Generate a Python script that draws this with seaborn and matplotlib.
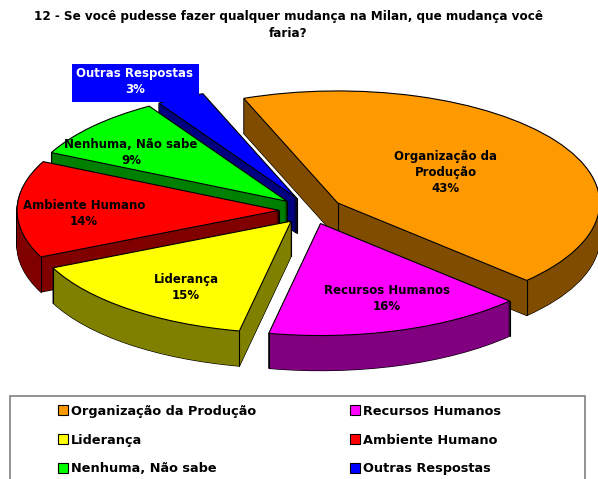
import numpy as np
import matplotlib.pyplot as plt
from matplotlib.patches import Rectangle
from matplotlib.transforms import Affine2D
import seaborn as sns

# Data
categories = ['Organização da Produção', 'Recursos Humanos', 'Liderança',
              'Ambiente Humano', 'Nenhuma, Não sabe', 'Outras Respostas']
values = [43, 16, 15, 14, 9, 3]
slice_labels = ['Organização da\nProdução\n43%', 'Recursos Humanos\n16%', 'Liderança\n15%',
                'Ambiente Humano\n14%', 'Nenhuma, Não sabe\n9%', 'Outras Respostas\n3%']
top_colors = ['#FF9900', '#FF00FF', '#FFFF00', '#FF0000', '#00FF00', '#0000FF']
side_colors = ['#804D00', '#800080', '#808000', '#800000', '#008000', '#000080']
title = '12 - Se você pudesse fazer qualquer mudança na Milan, que mudança você\nfaria?'

# Layout, in pixels of the picture
W, H = 598, 479
cx, cy, rx, ry = 311, 210.5, 262, 112
depth = 35
label_pos = [(446, 172.5), (387, 298), (186, 287.5), (84, 213.5), (131, 152.5), (135, 81.5)]
draw_rank = [1, 5, 4, 3, 2, 0]   # blue at the back, magenta at the front

sns.set_theme(style='white')
plt.rcParams['font.family'] = ['DejaVu Sans']
plt.rcParams['text.color'] = 'black'

fig = plt.figure(figsize=(W / 100, H / 100), dpi=100)
ax = fig.add_axes([0, 0, 1, 1])
px = Affine2D().scale(1, -1).translate(0, H)

explode = [0.122] * len(values)


def draw_pie(level, colors, edge, lw, z):
    wedges, _ = ax.pie(values, explode=explode, startangle=111, counterclock=False,
                       center=(0, -level / ry), colors=colors, radius=1,
                       wedgeprops=dict(edgecolor=edge, linewidth=lw))
    for w, r in zip(wedges, draw_rank):
        w.set_zorder(r * 10 + z)
    return wedges


# Walls: outline stack first, then the fill stack over it
for k in range(depth, 0, -1):
    draw_pie(k, side_colors, 'black', 0.9, 1)
for k in range(depth, 0, -1):
    draw_pie(k, side_colors, 'none', 0, 2)

# Top faces
tops = draw_pie(0, top_colors, 'black', 0.8, 4)

# Vertical wall edges at the corners of each slice
for w, r in zip(tops, draw_rank):
    for ang in (w.theta1, w.theta2):
        x = w.center[0] + np.cos(np.radians(ang))
        y = w.center[1] + np.sin(np.radians(ang))
        if np.sin(np.radians(ang)) < 0.75:
            ax.plot([x, x], [y, y - depth / ry], color='black', lw=0.8, zorder=r * 10 + 3)
    ax.plot([w.center[0]] * 2, [w.center[1], w.center[1] - depth / ry],
            color='black', lw=0.8, zorder=r * 10 + 3)

ax.set_aspect('auto')
ax.set_xlim(-cx / rx, (W - cx) / rx)
ax.set_ylim(-(H - cy) / ry, cy / ry)
ax.axis('off')

# Slice labels
for i, (lab, pos) in enumerate(zip(slice_labels, label_pos)):
    last = i == len(values) - 1
    ax.text(pos[0], pos[1], lab, transform=px, ha='center', va='center',
            fontsize=8.5, fontweight='bold', linespacing=1.3, zorder=100,
            color='white' if last else 'black')
ax.add_patch(Rectangle((72, 64), 127, 38, transform=px, facecolor='#0000FF',
                       edgecolor='none', zorder=99))

# Title
ax.text(288, 25, title, transform=px, ha='center', va='center', fontsize=8.65,
        fontweight='bold', color='black', linespacing=1.4, zorder=100)

# Legend box runs off the bottom of the picture
ax.add_patch(Rectangle((10, 396), 575, 120, transform=px, facecolor='white',
                       edgecolor='#808080', linewidth=1.2, zorder=90, clip_on=False))
order = [0, 2, 4, 1, 3, 5]
leg = ax.legend([tops[i] for i in order], [categories[i] for i in order], ncol=2,
                loc='upper left', bbox_to_anchor=(54 / W, 1 - 401 / H), frameon=False,
                prop=dict(size=9.25, weight='bold'), handlelength=0.8, handleheight=0.8,
                handletextpad=0.25, labelspacing=1.22, columnspacing=7.25, borderpad=0.3,
                borderaxespad=0)
leg.set_zorder(95)

fig.savefig('out.png', dpi=100, facecolor='white')
